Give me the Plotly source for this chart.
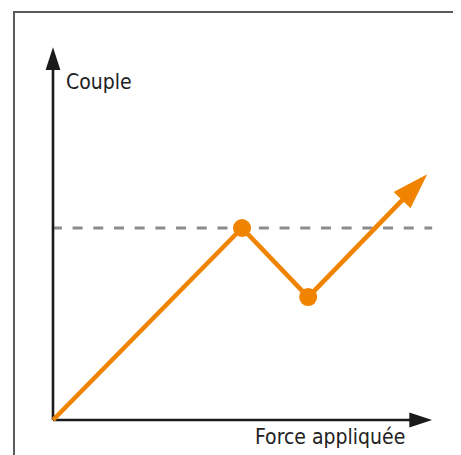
import plotly.graph_objects as go

# ── Data ──────────────────────────────────────────────────────────────────────
force = [0, 5.0, 6.75, 9.9]        # force appliquée
couple = [0, 5.0, 3.2, 6.4]        # couple
seuil = 5.0                        # dashed level
x_axis_end = 10.03
y_axis_end = 9.71

ORANGE = "#F08300"
FONT = "Liberation Sans Narrow, DejaVu Sans Condensed, Roboto, Liberation Sans"

fig = go.Figure()

# dashed threshold
fig.add_trace(go.Scatter(
    x=[-0.03, x_axis_end], y=[seuil, seuil], mode="lines",
    line=dict(color="#8c8c8c", width=2.8, dash="10px,10.7px"),
    hoverinfo="skip",
))

# axes with arrow heads
for xs, ys in [([0, x_axis_end], [0, 0]), ([0, 0], [0, y_axis_end])]:
    fig.add_trace(go.Scatter(
        x=xs, y=ys, mode="lines+markers",
        line=dict(color="#1a1a1a", width=2.6),
        marker=dict(symbol=["circle", "arrow"], size=[0, 24], color="#1a1a1a",
                    angleref="previous", opacity=1, line=dict(width=0)),
        hoverinfo="skip",
    ))

# orange curve
fig.add_trace(go.Scatter(
    x=force, y=couple, mode="lines+markers",
    line=dict(color=ORANGE, width=4.6),
    marker=dict(symbol=["circle", "circle", "circle", "arrow"],
                size=[0, 18, 18, 38], color=ORANGE, angleref="previous",
                opacity=1, line=dict(width=0)),
    hoverinfo="skip",
))

fig.add_annotation(x=0.29, y=8.8, text="Couple", showarrow=False,
                   xanchor="left", yanchor="middle",
                   font=dict(family=FONT, size=21, color="#222"))
fig.add_annotation(x=5.3, y=-0.44, text="Force appliquée", showarrow=False,
                   xanchor="left", yanchor="middle",
                   font=dict(family=FONT, size=21, color="#222"))

# frame (page has an 8px body margin)
fig.add_shape(type="rect", xref="paper", yref="paper",
              x0=6 / 461, x1=1.05, y0=-0.05, y1=1 - 4 / 455,
              line=dict(color="#5a5a5a", width=2))

fig.update_xaxes(range=[-1.1905, 11.005], visible=False, fixedrange=True)
fig.update_yaxes(range=[-1.1198, 10.729], visible=False, fixedrange=True)
fig.update_layout(
    width=461, height=455,
    margin=dict(l=0, r=0, t=0, b=0),
    paper_bgcolor="white", plot_bgcolor="white",
    showlegend=False,
)

fig.write_html("out.html")
